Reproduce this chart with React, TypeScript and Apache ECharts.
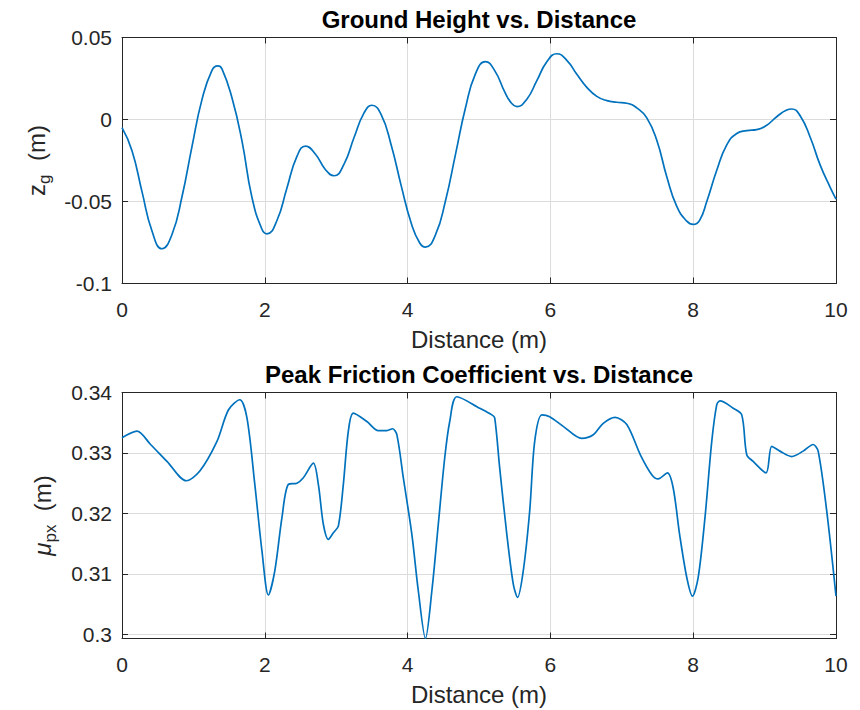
import React, { useEffect, useRef } from "react";
import * as echarts from "echarts";

// ---- data ----
const groundDistance = [
  0, 0.14, 0.28, 0.42, 0.56, 0.7, 0.84, 0.98, 1.12, 1.26, 1.34, 1.4, 1.54, 1.68, 1.82, 1.96, 2.03, 2.17, 2.31, 2.45,
  2.57, 2.71, 2.85, 2.97, 3.11, 3.25, 3.39, 3.5, 3.63, 3.77, 3.91, 4.05, 4.17, 4.25, 4.39, 4.53, 4.67, 4.81, 4.95,
  5.09, 5.22, 5.36, 5.45, 5.53, 5.67, 5.81, 5.95, 6.09, 6.23, 6.37, 6.51, 6.65, 6.79, 6.93, 7.07, 7.21, 7.35, 7.49,
  7.63, 7.77, 7.91, 8.0, 8.09, 8.19, 8.33, 8.47, 8.61, 8.75, 8.89, 9.03, 9.17, 9.31, 9.38, 9.5, 9.64, 9.78, 9.92, 10,
];
const groundHeight = [
  -0.005, -0.019, -0.044, -0.068, -0.0788, -0.0701, -0.0471, -0.0165, 0.0121, 0.03, 0.0327, 0.0309, 0.0132, -0.013,
  -0.0475, -0.0669, -0.0697, -0.0616, -0.0417, -0.0225, -0.0162, -0.0212, -0.0306, -0.0343, -0.0272, -0.011, 0.004,
  0.0087, 0.0029, -0.0155, -0.0403, -0.0631, -0.0753, -0.0778, -0.0704, -0.0497, -0.0214, 0.007, 0.0278, 0.0353,
  0.0298, 0.0169, 0.0102, 0.0079, 0.0124, 0.0237, 0.0352, 0.0401, 0.0361, 0.0276, 0.0196, 0.0141, 0.0115, 0.0105,
  0.0099, 0.0071, 0.001, -0.0127, -0.0349, -0.053, -0.062, -0.064, -0.0615, -0.05, -0.031, -0.0155, -0.0085, -0.0068,
  -0.0062, -0.0035, 0.0017, 0.0058, 0.0064, 0.0021, -0.011, -0.028, -0.0415, -0.0485,
];

const frictionDistance = [
  0, 0.21, 0.4, 0.63, 0.9, 1.09, 1.33, 1.49, 1.65, 1.75, 1.86, 1.96, 2.05, 2.14, 2.24, 2.33, 2.45, 2.54, 2.68, 2.75,
  2.82, 2.89, 2.96, 3.03, 3.1, 3.17, 3.24, 3.43, 3.59, 3.71, 3.79, 3.85, 3.94, 4.06, 4.15, 4.25, 4.34, 4.43, 4.52,
  4.59, 4.69, 5.01, 5.18, 5.22, 5.29, 5.39, 5.48, 5.54, 5.62, 5.71, 5.78, 5.88, 5.99, 6.18, 6.44, 6.6, 6.74, 6.905,
  7.07, 7.26, 7.42, 7.51, 7.64, 7.72, 7.81, 7.91, 7.99, 8.07, 8.165, 8.26, 8.33, 8.375, 8.56, 8.68, 8.75, 8.84, 9.02,
  9.1, 9.215, 9.38, 9.54, 9.68, 9.75, 9.87, 10,
];
const frictionPeak = [
  0.3325, 0.3336, 0.3314, 0.3286, 0.3254, 0.327, 0.3319, 0.3371, 0.3388, 0.3358, 0.3248, 0.3138, 0.3065, 0.3105,
  0.3193, 0.3248, 0.325, 0.3259, 0.3283, 0.3248, 0.3182, 0.3157, 0.3168, 0.3179, 0.3248, 0.3336, 0.3366, 0.3352,
  0.3337, 0.3337, 0.334, 0.333, 0.3259, 0.3165, 0.3072, 0.2993, 0.3072, 0.3182, 0.3292, 0.3352, 0.3393, 0.3374,
  0.3363, 0.3358, 0.3275, 0.3165, 0.3083, 0.3061, 0.3105, 0.3204, 0.3319, 0.3363, 0.336, 0.3344, 0.3324, 0.333,
  0.3349, 0.3359, 0.3347, 0.3297, 0.3264, 0.3257, 0.3267, 0.3242, 0.3165, 0.3094, 0.3063, 0.3094, 0.3193, 0.3319,
  0.338, 0.3386, 0.3374, 0.3363, 0.3297, 0.3286, 0.3267, 0.3311, 0.3303, 0.3294, 0.3303, 0.3314, 0.3303, 0.3204,
  0.3063,
];

const titles = ["Ground Height vs. Distance", "Peak Friction Coefficient vs. Distance"];
const xLabel = "Distance (m)";
const distanceRange = [0, 10];
const distanceStep = 2;
const groundRange = [-0.1, 0.05];
const groundStep = 0.05;
const frictionRange = [0.2993, 0.34];

const FONT = "'Liberation Sans', Arial, Helvetica, sans-serif";
const TXT = "#262626";
const GRIDC = "#dcdcdc";
const BLUE = "#0072BD";

const LEFT = 122;
const RIGHT = 24;
const TOPS = [37.5, 392.5];
const H = 246;

function pair(xs: number[], ys: number[]) {
  return xs.map((x, i) => [x, ys[i]]);
}

export default function App() {
  const ref = useRef<HTMLDivElement>(null);
  useEffect(() => {
    document.body.style.margin = "0";
    if (!ref.current) return;
    const chart = echarts.init(ref.current, undefined, { renderer: "svg" });

    const baseAxisLine = { show: true, onZero: false, lineStyle: { color: TXT, width: 1 } };
    const tick = { show: true, inside: true, length: 6, lineStyle: { color: TXT, width: 1 } };
    const label = { fontSize: 21, color: TXT, fontFamily: FONT };

    const xAxes: any[] = [];
    const yAxes: any[] = [];
    [0, 1].forEach((g) => {
      xAxes.push({
        gridIndex: g,
        type: "value",
        min: distanceRange[0],
        max: distanceRange[1],
        interval: distanceStep,
        position: "bottom",
        axisLine: baseAxisLine,
        axisTick: tick,
        axisLabel: { ...label, margin: 15 },
        splitLine: { show: true, lineStyle: { color: GRIDC, width: 1 } },
        name: xLabel,
        nameLocation: "middle",
        nameGap: 44,
        nameTextStyle: { fontSize: 24, color: TXT, fontFamily: FONT },
      });
      xAxes.push({
        gridIndex: g,
        type: "value",
        min: distanceRange[0],
        max: distanceRange[1],
        interval: distanceStep,
        position: "top",
        axisLine: baseAxisLine,
        axisTick: tick,
        axisLabel: { show: false },
        splitLine: { show: false },
      });
    });

    const richCommon = { color: TXT, fontFamily: FONT };
    // top plot y
    yAxes.push({
      gridIndex: 0,
      type: "value",
      min: groundRange[0],
      max: groundRange[1],
      interval: groundStep,
      position: "left",
      axisLine: baseAxisLine,
      axisTick: tick,
      axisLabel: { ...label, margin: 10 },
      splitLine: { show: true, lineStyle: { color: GRIDC, width: 1 } },
      name: "{n|z}{s|g}{n|  (m)}",
      nameLocation: "middle",
      nameRotate: 90,
      nameGap: 69,
      nameTextStyle: {
        fontSize: 24,
        ...richCommon,
        rich: {
          n: { fontSize: 24, lineHeight: 34, ...richCommon },
          s: { fontSize: 17, lineHeight: 17, verticalAlign: "bottom", ...richCommon },
        },
      },
    });
    yAxes.push({
      gridIndex: 0,
      type: "value",
      min: groundRange[0],
      max: groundRange[1],
      interval: groundStep,
      position: "right",
      axisLine: baseAxisLine,
      axisTick: tick,
      axisLabel: { show: false },
      splitLine: { show: false },
    });
    // bottom plot y
    yAxes.push({
      gridIndex: 1,
      type: "value",
      min: frictionRange[0],
      max: frictionRange[1],
      position: "left",
      axisLine: baseAxisLine,
      axisTick: tick,
      axisLabel: { ...label, margin: 10, showMinLabel: false },
      splitLine: { show: true, lineStyle: { color: GRIDC, width: 1 } },
      name: "{m|μ}{s|px}{n|  (m)}",
      nameLocation: "middle",
      nameRotate: 90,
      nameGap: 63,
      nameTextStyle: {
        fontSize: 24,
        ...richCommon,
        rich: {
          m: { fontSize: 24, lineHeight: 34, fontStyle: "italic", ...richCommon },
          n: { fontSize: 24, lineHeight: 34, ...richCommon },
          s: { fontSize: 17, lineHeight: 17, verticalAlign: "bottom", ...richCommon },
        },
      },
    });
    yAxes.push({
      gridIndex: 1,
      type: "value",
      min: frictionRange[0],
      max: frictionRange[1],
      position: "right",
      axisLine: baseAxisLine,
      axisTick: tick,
      axisLabel: { show: false },
      splitLine: { show: false },
    });

    const plotCenter = LEFT + (860 - LEFT - RIGHT) / 2;

    chart.setOption({
      animation: false,
      backgroundColor: "#ffffff",
      grid: TOPS.map((t) => ({ left: LEFT, right: RIGHT, top: t, height: H, containLabel: false })),
      xAxis: xAxes,
      yAxis: yAxes,
      graphic: titles.map((t, i) => ({
        type: "text",
        x: plotCenter,
        y: TOPS[i] - 30,
        style: {
          text: t,
          fontSize: 24,
          fontWeight: "bold",
          fontFamily: FONT,
          fill: "#000000",
          textAlign: "center",
          textVerticalAlign: "top",
        },
      })),
      series: [
        {
          type: "line",
          xAxisIndex: 0,
          yAxisIndex: 0,
          data: pair(groundDistance, groundHeight),
          showSymbol: false,
          smooth: 0.5,
          lineStyle: { color: BLUE, width: 1.7 },
          itemStyle: { color: BLUE },
        },
        {
          type: "line",
          xAxisIndex: 2,
          yAxisIndex: 2,
          data: pair(frictionDistance, frictionPeak),
          showSymbol: false,
          smooth: 0.3,
          lineStyle: { color: BLUE, width: 1.7 },
          itemStyle: { color: BLUE },
        },
      ],
    });
    return () => chart.dispose();
  }, []);
  return <div ref={ref} style={{ width: 860, height: 710 }} />;
}
